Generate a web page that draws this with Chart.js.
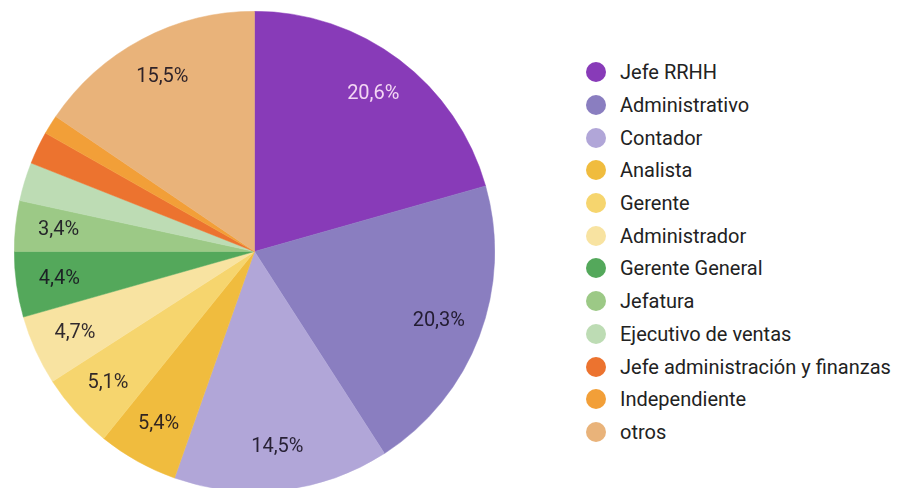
<!DOCTYPE html>
<html>
<head>
<meta charset="utf-8">
<script src="https://cdn.jsdelivr.net/npm/chart.js@4/dist/chart.umd.min.js"></script>
<style>
  html, body { margin:0; padding:0; width:901px; height:488px; overflow:hidden; background:#fff; font-family: Roboto, "Noto Sans", sans-serif; }
  #pieBox { position:absolute; left:14px; top:11px; width:481px; height:481px; }
  #legend { position:absolute; left:586px; top:56px; margin:0; padding:0; list-style:none; }
  #legend li { height:32.7px; display:flex; align-items:center; font-size:20px; color:#222; white-space:nowrap; }
  #legend .dot { width:20px; height:20px; border-radius:50%; margin-right:14px; flex:none; }
</style>
</head>
<body>
<div id="pieBox"><canvas id="pie"></canvas></div>
<ul id="legend"></ul>
<script>
// data
const labels = ['Jefe RRHH','Administrativo','Contador','Analista','Gerente','Administrador','Gerente General','Jefatura','Ejecutivo de ventas','Jefe administración y finanzas','Independiente','otros'];
const values = [20.6, 20.3, 14.5, 5.4, 5.1, 4.7, 4.4, 3.4, 2.6, 2.2, 1.3, 15.5];
const colors = ['#883bb8','#8a7ec0','#b1a6d8','#f0bc3e','#f6d56e','#f8e3a1','#54a85b','#9cc986','#bddcb4','#ec732f','#f29f38','#e9b37a'];
const shown = [true, true, true, true, true, true, true, true, false, false, false, true];

// legend
document.getElementById('legend').innerHTML = labels.map((l,i)=>
  `<li><span class="dot" style="background:${colors[i]}"></span>${l}</li>`).join('');

// percent labels inside slices
const sliceLabels = {
  id: 'sliceLabels',
  afterDatasetsDraw(chart){
    const {ctx} = chart;
    const meta = chart.getDatasetMeta(0);
    ctx.save();
    ctx.font = '20px Roboto, "Noto Sans", sans-serif';
    ctx.textAlign = 'center';
    ctx.textBaseline = 'middle';
    meta.data.forEach((arc, i)=>{
      if (!shown[i]) return;
      const {x, y, startAngle, endAngle, outerRadius} = arc.getProps(['x','y','startAngle','endAngle','outerRadius'], true);
      const mid = (startAngle + endAngle) / 2;
      const r = outerRadius * 0.82;
      ctx.fillStyle = i === 0 ? '#f3d6f3' : 'rgba(20,15,30,0.88)';
      ctx.fillText(values[i].toFixed(1).replace('.', ',') + '%', x + Math.cos(mid)*r, y + Math.sin(mid)*r);
    });
    ctx.restore();
  }
};

new Chart(document.getElementById('pie'), {
  type: 'pie',
  data: { labels, datasets: [{ data: values, backgroundColor: colors, borderColor: colors, borderWidth: 0.5 }] },
  options: {
    responsive: true,
    maintainAspectRatio: false,
    animation: false,
    layout: { padding: 0 },
    plugins: { legend: { display:false }, tooltip: { enabled:false } }
  },
  plugins: [sliceLabels]
});
</script>
</body>
</html>
